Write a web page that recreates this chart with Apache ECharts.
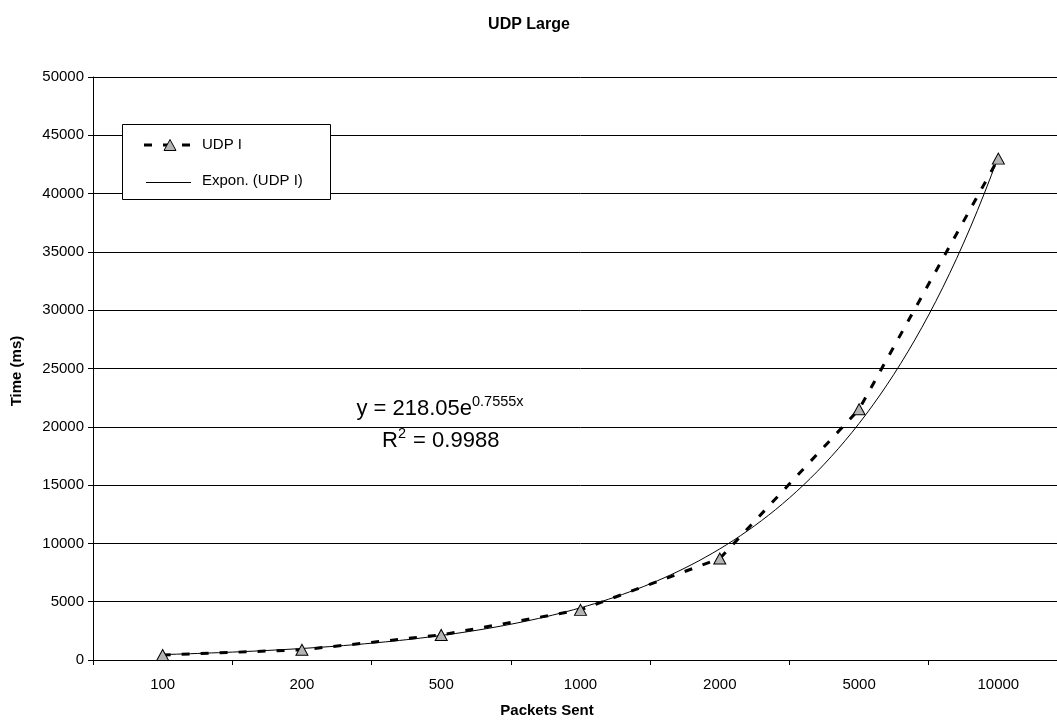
<!DOCTYPE html>
<html>
<head>
<meta charset="utf-8">
<script src="https://cdn.jsdelivr.net/npm/echarts@6/dist/echarts.min.js"></script>
<style>
html,body{margin:0;padding:0;background:#fff;overflow:hidden;width:1057px;height:721px;}
#c{width:1068px;height:721px;}
</style>
</head>
<body>
<div id="c"></div>
<script>
var categories = ['100', '200', '500', '1000', '2000', '5000', '10000'];
var udpValues = [430, 880, 2150, 4300, 8700, 21500, 43000];
var yTicks = [0, 5000, 10000, 15000, 20000, 25000, 30000, 35000, 40000, 45000, 50000];
// Excel exponential trendline as printed on the chart: y = 218.05 e^(0.7555 x)
var trendA = 218.05;
var trendB = 0.7555;
var legendNames = ['UDP I', 'Expon. (UDP I)'];

var FONT = 'Liberation Sans, Arial, sans-serif';
var DASH = [8, 11];

var trendData = [];
for (var i = 0; i <= 120; i++) {
  var x = 1 + i * (categories.length - 1) / 120;
  trendData.push([x, trendA * Math.exp(trendB * x)]);
}

var chart = echarts.init(document.getElementById('c'), null, {renderer: 'canvas'});
chart.setOption({
  backgroundColor: '#fff',
  animation: false,
  grid: {left: 93, right: 0, top: 77, bottom: 61, containLabel: false},
  xAxis: [{
    type: 'category',
    data: categories,
    boundaryGap: true,
    axisLine: {lineStyle: {color: '#000', width: 1}},
    axisTick: {show: true, interval: 0, length: 5, lineStyle: {color: '#000'}},
    axisLabel: {color: '#000', fontFamily: FONT, fontSize: 15, margin: 17, interval: 0},
    splitLine: {show: false}
  }, {
    type: 'value',
    min: 0.5,
    max: 7.5,
    show: false
  }],
  yAxis: {
    type: 'value',
    min: yTicks[0],
    max: yTicks[yTicks.length - 1],
    interval: 5000,
    axisLine: {show: true, lineStyle: {color: '#000', width: 1}},
    axisTick: {show: true, length: 5, lineStyle: {color: '#000'}},
    axisLabel: {color: '#000', fontFamily: FONT, fontSize: 15, margin: 9, formatter: function (v) { return String(v); }},
    splitLine: {show: true, lineStyle: {color: '#000', width: 1}}
  },
  series: [{
    name: legendNames[1],
    type: 'line',
    xAxisIndex: 1,
    data: trendData,
    showSymbol: false,
    symbol: 'none',
    lineStyle: {color: '#000', width: 1},
    itemStyle: {color: '#000'},
    z: 2
  }, {
    name: legendNames[0],
    type: 'line',
    xAxisIndex: 0,
    data: udpValues,
    symbol: 'triangle',
    symbolSize: [12, 11],
    lineStyle: {color: '#000', width: 3, type: DASH},
    itemStyle: {color: '#b4b4b4', borderColor: '#000', borderWidth: 1},
    z: 3
  }],
  graphic: [{
    type: 'rect',
    z: 10,
    shape: {x: 122.5, y: 124.5, width: 208, height: 75},
    style: {fill: '#fff', stroke: '#000', lineWidth: 1}
  }, {
    type: 'line',
    z: 11,
    shape: {x1: 144, y1: 145, x2: 190, y2: 145},
    style: {stroke: '#000', lineWidth: 3, lineDash: DASH}
  }, {
    type: 'polygon',
    z: 12,
    shape: {points: [[170, 139.5], [176, 150.5], [164, 150.5]]},
    style: {fill: '#b4b4b4', stroke: '#000', lineWidth: 1}
  }, {
    type: 'text',
    z: 12,
    style: {x: 202, y: 145, text: legendNames[0], fill: '#000', font: '15px ' + FONT, textAlign: 'left', textVerticalAlign: 'middle'}
  }, {
    type: 'line',
    z: 11,
    shape: {x1: 146, y1: 182.5, x2: 191, y2: 182.5},
    style: {stroke: '#000', lineWidth: 1}
  }, {
    type: 'text',
    z: 12,
    style: {x: 202, y: 181, text: legendNames[1], fill: '#000', font: '15px ' + FONT, textAlign: 'left', textVerticalAlign: 'middle'}
  }, {
    type: 'text',
    z: 10,
    style: {x: 529, y: 25, text: 'UDP Large', fill: '#000', font: 'bold 16px ' + FONT, textAlign: 'center', textVerticalAlign: 'middle'}
  }, {
    type: 'text',
    z: 10,
    style: {x: 547, y: 711, text: 'Packets Sent', fill: '#000', font: 'bold 15px ' + FONT, textAlign: 'center', textVerticalAlign: 'middle'}
  }, {
    type: 'text',
    z: 10,
    x: 17, y: 371, rotation: Math.PI / 2,
    style: {x: 0, y: 0, text: 'Time (ms)', fill: '#000', font: 'bold 15px ' + FONT, textAlign: 'center', textVerticalAlign: 'middle'}
  }, {
    type: 'text',
    z: 10,
    style: {x: 472, y: 420, text: 'y = 218.05e', fill: '#000', font: '22px ' + FONT, textAlign: 'right', textVerticalAlign: 'bottom'}
  }, {
    type: 'text',
    z: 10,
    style: {x: 472, y: 409, text: '0.7555x', fill: '#000', font: '14.5px ' + FONT, textAlign: 'left', textVerticalAlign: 'bottom'}
  }, {
    type: 'text',
    z: 10,
    style: {x: 382, y: 452, text: 'R', fill: '#000', font: '22px ' + FONT, textAlign: 'left', textVerticalAlign: 'bottom'}
  }, {
    type: 'text',
    z: 10,
    style: {x: 398, y: 441, text: '2', fill: '#000', font: '14.5px ' + FONT, textAlign: 'left', textVerticalAlign: 'bottom'}
  }, {
    type: 'text',
    z: 10,
    style: {x: 407, y: 452, text: ' = 0.9988', fill: '#000', font: '22px ' + FONT, textAlign: 'left', textVerticalAlign: 'bottom'}
  }]
});
</script>
</body>
</html>
